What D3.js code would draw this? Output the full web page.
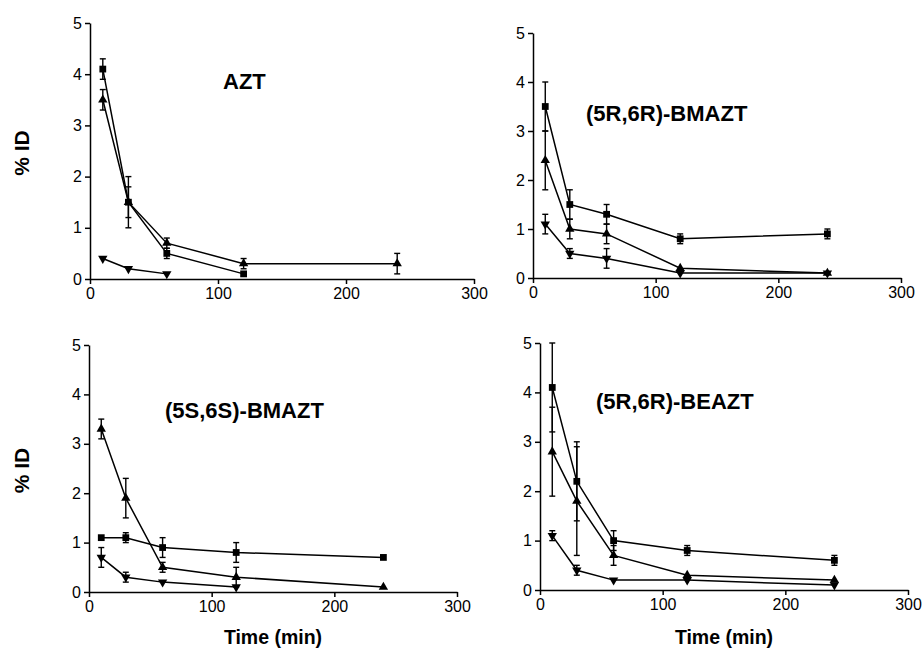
<!DOCTYPE html>
<html>
<head>
<meta charset="utf-8">
<script src="https://cdn.jsdelivr.net/npm/d3@7"></script>
<style>
  body { margin: 0; background: #fff; }
  svg { font-family: "Liberation Sans", Arial, sans-serif; }
  .axis path, .axis line { stroke: #000; stroke-width: 1.5px; }
  .axis text { font-size: 16px; fill: #000; }
</style>
</head>
<body>
<div id="chart"></div>
<script>
// sampling times (min)
const timePoints = [10, 30, 60, 120, 240];
const xTicks = [0, 100, 200, 300];
const yTicks = [0, 1, 2, 3, 4, 5];
const panelTitles = ["AZT", "(5R,6R)-BMAZT", "(5S,6S)-BMAZT", "(5R,6R)-BEAZT"];

// % ID values, null = not measured; err = half-length of error bar
const aztSquare      = [4.1, 1.5, 0.5, 0.1, null];
const aztSquareErr   = [0.2, 0.5, 0.1, 0, null];
const aztUp          = [3.5, 1.5, 0.7, 0.3, 0.3];
const aztUpErr       = [0.2, 0.3, 0.1, 0.1, 0.2];
const aztDown        = [0.4, 0.2, 0.1, null, null];
const aztDownErr     = [0, 0, 0, null, null];

const rrSquare       = [3.5, 1.5, 1.3, 0.8, 0.9];
const rrSquareErr    = [0.5, 0.3, 0.2, 0.1, 0.1];
const rrUp           = [2.4, 1.0, 0.9, 0.2, 0.1];
const rrUpErr        = [0.6, 0.2, 0.2, 0, 0];
const rrDown         = [1.1, 0.5, 0.4, 0.1, 0.1];
const rrDownErr      = [0.2, 0.1, 0.2, 0, 0];

const ssSquare       = [1.1, 1.1, 0.9, 0.8, 0.7];
const ssSquareErr    = [0, 0.1, 0.2, 0.2, 0];
const ssUp           = [3.3, 1.9, 0.5, 0.3, 0.1];
const ssUpErr        = [0.2, 0.4, 0.1, 0.2, 0];
const ssDown         = [0.7, 0.3, 0.2, 0.1, null];
const ssDownErr      = [0.2, 0.1, 0, 0, null];

const beSquare       = [4.1, 2.2, 1.0, 0.8, 0.6];
const beSquareErr    = [0.9, 0.8, 0.2, 0.1, 0.1];
const beUp           = [2.8, 1.8, 0.7, 0.3, 0.2];
const beUpErr        = [0.9, 1.1, 0.2, 0, 0];
const beDown         = [1.1, 0.4, 0.2, 0.2, 0.1];
const beDownErr      = [0.1, 0.1, 0, 0, 0];

const panelSeries = [
  [[aztSquare, aztSquareErr, "square"], [aztUp, aztUpErr, "up"], [aztDown, aztDownErr, "down"]],
  [[rrSquare, rrSquareErr, "square"], [rrUp, rrUpErr, "up"], [rrDown, rrDownErr, "down"]],
  [[ssSquare, ssSquareErr, "square"], [ssUp, ssUpErr, "up"], [ssDown, ssDownErr, "down"]],
  [[beSquare, beSquareErr, "square"], [beUp, beUpErr, "up"], [beDown, beDownErr, "down"]]
]

// plot frames: left/right = x 0..300, top/bottom = y 5..0
const frames = [
  {left: 90, right: 474, top: 23, bottom: 279, title: [223, 89], ylab: true, xlab: false},
  {left: 533, right: 901, top: 33, bottom: 278, title: [586, 121], ylab: false, xlab: false},
  {left: 89, right: 457, top: 345, bottom: 592, title: [165, 418], ylab: true, xlab: true},
  {left: 540, right: 908, top: 343, bottom: 590, title: [596, 409], ylab: false, xlab: true}
]

const svg = d3.select("#chart").append("svg")
    .attr("width", 922)
    .attr("height", 650)

const symSquare = d3.symbol().type(d3.symbolSquare).size(46)
const symTri = d3.symbol().type(d3.symbolTriangle).size(38)

frames.forEach(function(f, p) {
  const x = d3.scaleLinear().domain([0, 300]).range([f.left, f.right])
  const y = d3.scaleLinear().domain([0, 5]).range([f.bottom, f.top])
  const g = svg.append("g")

  g.append("g")
      .attr("class", "axis")
      .attr("transform", "translate(0," + f.bottom + ")")
      .call(d3.axisBottom(x).tickValues(xTicks).tickFormat(d3.format("d")).tickSize(5).tickSizeOuter(0).tickPadding(4))

  g.append("g")
      .attr("class", "axis")
      .attr("transform", "translate(" + f.left + ",0)")
      .call(d3.axisLeft(y).tickValues(yTicks).tickFormat(d3.format("d")).tickSize(5).tickSizeOuter(0).tickPadding(3))

  const line = d3.line()
      .defined(function(d) { return d.v != null; })
      .x(function(d) { return x(d.t); })
      .y(function(d) { return y(d.v); })

  panelSeries[p].forEach(function(s) {
    const pts = timePoints.map(function(t, i) { return {t: t, v: s[0][i], e: s[1][i]}; })
        .filter(function(d) { return d.v != null; })

    g.append("path")
        .datum(pts)
        .attr("d", line)
        .attr("fill", "none")
        .attr("stroke", "#000")
        .attr("stroke-width", 1.5)

    // error bars
    const eb = g.selectAll(null)
        .data(pts.filter(function(d) { return d.e > 0; }))
        .enter().append("g")
        .attr("stroke", "#000")
        .attr("stroke-width", 1.4)
    eb.append("line")
        .attr("x1", function(d) { return x(d.t); })
        .attr("x2", function(d) { return x(d.t); })
        .attr("y1", function(d) { return y(d.v - d.e); })
        .attr("y2", function(d) { return y(d.v + d.e); })
    eb.append("line")
        .attr("x1", function(d) { return x(d.t) - 3; })
        .attr("x2", function(d) { return x(d.t) + 3; })
        .attr("y1", function(d) { return y(d.v + d.e); })
        .attr("y2", function(d) { return y(d.v + d.e); })
    eb.append("line")
        .attr("x1", function(d) { return x(d.t) - 3; })
        .attr("x2", function(d) { return x(d.t) + 3; })
        .attr("y1", function(d) { return y(d.v - d.e); })
        .attr("y2", function(d) { return y(d.v - d.e); })

    g.selectAll(null)
        .data(pts)
        .enter().append("path")
        .attr("d", s[2] == "square" ? symSquare : symTri)
        .attr("fill", "#000")
        .attr("transform", function(d) {
          return "translate(" + x(d.t) + "," + y(d.v) + ")" + (s[2] == "down" ? " rotate(180)" : "");
        })
  })

  g.append("text")
      .attr("x", f.title[0])
      .attr("y", f.title[1])
      .attr("font-size", 22)
      .attr("font-weight", "bold")
      .text(panelTitles[p])

  if (f.ylab) {
    g.append("text")
        .attr("transform", "translate(29," + ((f.top + f.bottom) / 2 + 2) + ") rotate(-90)")
        .attr("text-anchor", "middle")
        .attr("font-size", 21)
        .attr("font-weight", "bold")
        .text("% ID")
  }
  if (f.xlab) {
    g.append("text")
        .attr("x", (f.left + f.right) / 2)
        .attr("y", 644)
        .attr("text-anchor", "middle")
        .attr("font-size", 19.5)
        .attr("font-weight", "bold")
        .text("Time (min)")
  }
})
</script>
</body>
</html>
